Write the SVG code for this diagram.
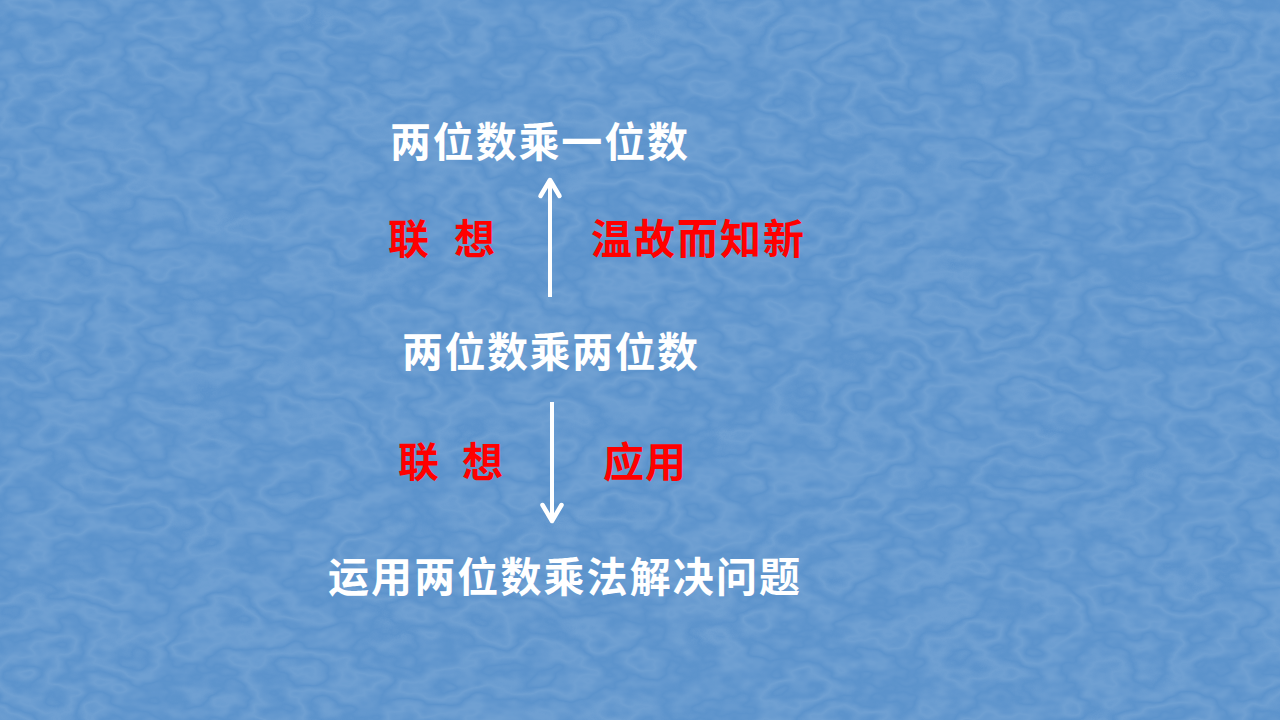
<svg xmlns="http://www.w3.org/2000/svg" width="1280" height="720" viewBox="0 0 1280 720">
  <defs>
    <style>
      .w { fill: #FFFFFF; font-family: "Noto Sans CJK SC", "Noto Sans", sans-serif; font-weight: bold; font-size: 41px; }
      .r { fill: #FF0000; font-family: "Noto Sans CJK SC", "Noto Sans", sans-serif; font-weight: bold; font-size: 41px; }
      .conn { stroke: #FFFFFF; stroke-width: 4; fill: none; }
    </style>
    <filter id="marble" x="0" y="0" width="100%" height="100%">
      <feTurbulence type="fractalNoise" baseFrequency="0.012 0.02" numOctaves="4" seed="7" result="n"/>
      <feComponentTransfer in="n" result="a">
        <feFuncR type="table" tableValues="0 1 0 1 0 1 0 1 0"/>
      </feComponentTransfer>
      <feColorMatrix in="a" type="matrix" values="0 0 0 0 1  0 0 0 0 1  0 0 0 0 1  0.12 0 0 0 0"/>
    </filter>
    <marker id="head" viewBox="-22 -14 26 28" refX="0" refY="0" markerWidth="26" markerHeight="28" markerUnits="userSpaceOnUse" orient="auto">
      <path d="M-16,-9.5 L0,0 L-16,9.5" fill="none" stroke="#FFFFFF" stroke-width="4.5" stroke-linecap="round" stroke-linejoin="round"/>
    </marker>
  </defs>
  <rect id="background" x="0" y="0" width="1280" height="720" fill="#5C93CC"/>
  <rect x="0" y="0" width="1280" height="720" filter="url(#marble)"/>

  <g id="node-top"><text class="w" x="390" y="157" textLength="298" lengthAdjust="spacing">两位数乘一位数</text></g>
  <g id="node-middle"><text class="w" x="402" y="367" textLength="296" lengthAdjust="spacing">两位数乘两位数</text></g>
  <g id="node-bottom"><text class="w" x="328" y="592" textLength="472" lengthAdjust="spacing">运用两位数乘法解决问题</text></g>

  <g id="label-assoc-1"><text class="r" x="388" y="254">联</text><text class="r" x="454" y="254">想</text></g>
  <g id="label-review"><text class="r" x="591" y="254" textLength="213" lengthAdjust="spacing">温故而知新</text></g>
  <g id="label-assoc-2"><text class="r" x="398" y="477">联</text><text class="r" x="462" y="477">想</text></g>
  <g id="label-apply"><text class="r" x="603" y="477" textLength="83" lengthAdjust="spacing">应用</text></g>

  <g id="connectors">
    <line class="conn" x1="550" y1="297" x2="550" y2="180" marker-end="url(#head)"/>
    <line class="conn" x1="552" y1="402" x2="552" y2="521" marker-end="url(#head)"/>
  </g>
</svg>
